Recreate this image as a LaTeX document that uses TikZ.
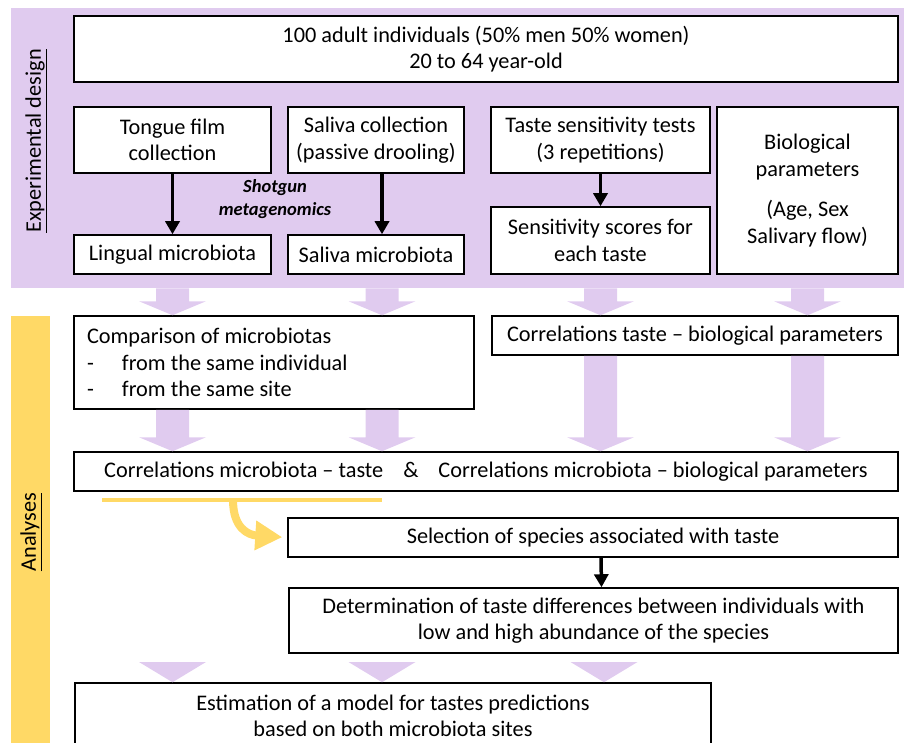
\documentclass[tikz,border=0pt]{standalone}
\usepackage{fontspec}
\setmainfont{Carlito}
\usepackage{tikz}
\usetikzlibrary{arrows.meta,calc}
\usepackage{xcolor}
\definecolor{lilac}{RGB}{224,203,239}
\definecolor{gold}{RGB}{255,217,102}

\begin{document}
\begin{tikzpicture}[x=1pt,y=-1pt,
    every node/.style={font=\fontsize{22.3}{26.5}\selectfont},
    box/.style={draw,line width=1.5pt,fill=white,inner sep=0pt,align=center},
    arr/.style={-{Triangle[width=14pt,length=13pt]},line width=3.5pt},
    fat/.style={fill=lilac,to path={let \p1=(\tikztostart),\p2=(\tikztotarget) in
        (\x1-16.5pt,\y1) -- (\x1+16.5pt,\y1) -- (\x1+16.5pt,\y2+14pt) -- (\x1+33.5pt,\y2+14pt)
        -- (\x1,\y2) -- (\x1-33.5pt,\y2+14pt) -- (\x1-16.5pt,\y2+14pt) -- cycle}},
    tri/.style={fill=lilac,to path={let \p1=(\tikztostart),\p2=(\tikztotarget) in
        (\x1-33.5pt,\y1) -- (\x1+33.5pt,\y1) -- (\x1,\y2) -- cycle}}]
    \useasboundingbox (0,0) rectangle (904,743);

    % the two coloured bands
    \node[fill=lilac,inner sep=0pt,minimum width=893pt,minimum height=280pt,anchor=north west]
        (design) at (11,8) {};
    \node[fill=gold,inner sep=0pt,minimum width=39pt,minimum height=440pt,anchor=north west]
        (analyses) at (11,316) {};
    \node[rotate=90] (lbldes) at (36,141) {\underline{Experimental design}};
    \node[rotate=90] (lblana) at (31,532) {\underline{Analyses}};

    % experimental design
    \node[box,minimum width=824pt,minimum height=66pt] (pop) at (486,49)
        {100 adult individuals (50\% men 50\% women)\\20 to 64 year-old};
    \node[box,minimum width=197pt,minimum height=66pt] (tongue) at (172.5,140) {Tongue film\\collection};
    \node[box,minimum width=176pt,minimum height=66pt] (salc) at (376,140) {Saliva collection\\(passive drooling)};
    \node[box,minimum width=219pt,minimum height=66pt] (taste) at (600.5,140) {Taste sensitivity tests\\(3 repetitions)};
    \node[box,minimum width=181pt,minimum height=167pt] (bio) at (807.5,190.5)
        {Biological\\parameters\\[14pt](Age, Sex\\Salivary flow)};
    \node[box,minimum width=197pt,minimum height=39pt] (ling) at (172.5,254.5) {Lingual microbiota};
    \node[box,minimum width=176pt,minimum height=39pt] (salm) at (376,254.5) {Saliva microbiota};
    \node[box,minimum width=219pt,minimum height=67pt] (score) at (600.5,240.5) {Sensitivity scores for\\each taste};
    \node[align=center,font=\bfseries\itshape\fontsize{18.5}{23}\selectfont] (shot) at (275,199)
        {Shotgun\\metagenomics};

    \draw[arr] (tongue) -- (ling);
    \draw[arr] ([xshift=6pt]salc.south) -- ([xshift=6pt]salm.north);
    \draw[arr] (taste) -- (score);

    % analyses
    \node[box,align=flush left,text width=374pt,inner xsep=13pt,minimum height=93pt] (cmp) at (274,362.5)
        {Comparison of microbiotas\\\makebox[35pt][l]{-}from the same individual\\\makebox[35pt][l]{-}from the same site};
    \node[box,minimum width=406pt,minimum height=39pt] (ctb) at (695,335.5)
        {Correlations taste -- biological parameters};
    \node[box,minimum width=824pt,minimum height=39pt] (cor) at (486,471.5)
        {Correlations microbiota -- taste\hspace{20pt}\&\hspace{20pt}Correlations microbiota -- biological parameters};
    \node[box,minimum width=610pt,minimum height=39pt] (sel) at (593,537.5)
        {Selection of species associated with taste};
    \node[box,minimum width=609pt,minimum height=65pt] (det) at (593.5,620.5)
        {Determination of taste differences between individuals with\\low and high abundance of the species};
    \node[box,minimum width=636pt,minimum height=66pt] (est) at (393,716)
        {Estimation of a model for tastes predictions\\based on both microbiota sites};

    % big lilac arrows
    \foreach \cx/\dst in {172.5/cmp,382/cmp,600.5/ctb,807.5/ctb} {
        \coordinate (col) at (\cx,0);
        \path[fat] (col |- design.south) to (col |- \dst.north);
    }
    \foreach \cx/\src in {172.5/cmp,382/cmp,600.5/ctb,807.5/ctb} {
        \coordinate (col) at (\cx,0);
        \path[fat] (col |- \src.south) to (col |- cor.north);
    }
    \foreach \cx in {172.5,382,604} {
        \coordinate (col) at (\cx,662);
        \path[tri] (col) to (col |- est.north);
    }

    \draw[arr] ([xshift=8pt]sel.south) -- ([xshift=8pt]det.north);

    % yellow underline and bent arrow
    \coordinate (ul) at (102,500);
    \coordinate (ur) at (382,500);
    \coordinate (uk) at (233,500);
    \draw[gold,line width=4.5pt] (ul) -- (ur);
    \draw[gold,line width=8pt,-{Triangle[width=28pt,length=27pt]},shorten >=5pt]
        (uk) .. controls (233,528) and (248,535) .. (sel.west);
\end{tikzpicture}
\end{document}
